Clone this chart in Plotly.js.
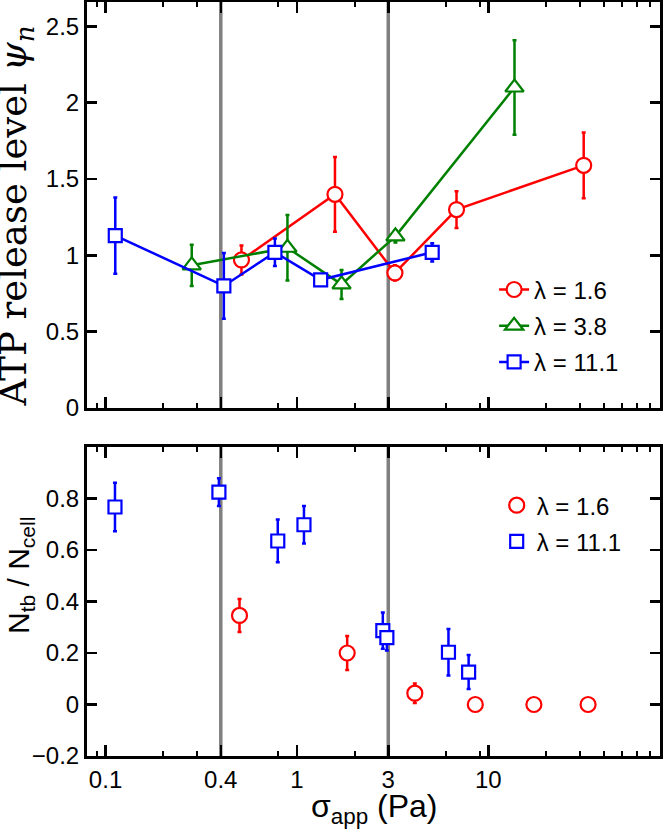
<!DOCTYPE html>
<html>
<head>
<meta charset="utf-8">
<script src="https://cdn.plot.ly/plotly-3.0.1.min.js"></script>
<style>html,body{margin:0;padding:0;background:#fff;}#chart{width:663px;height:837px;}</style>
</head>
<body>
<div id="chart"></div>
<script>
// ---- top panel: ATP release level ----
const top16_x = [0.513, 1.58, 3.25, 6.82, 31.5];
const top16_y = [0.97, 1.40, 0.885, 1.30, 1.59];
const top16_err = [0.095, 0.245, 0.05, 0.12, 0.215];

const top38_x = [0.282, 0.892, 1.71, 3.27, 13.7];
const top38_y = [0.935, 1.05, 0.81, 1.125, 2.10];
const top38_err = [0.135, 0.215, 0.095, 0.04, 0.31];

const top111_x = [0.1124, 0.415, 0.767, 1.33, 5.09];
const top111_y = [1.13, 0.80, 1.02, 0.84, 1.02];
const top111_err = [0.25, 0.215, 0.09, 0.025, 0.06];

// ---- bottom panel: N_tb / N_cell ----
const bot16_x = [0.501, 1.83, 4.13, 8.55, 17.3, 33.2];
const bot16_y = [0.346, 0.20, 0.044, 0, 0, 0];
const bot16_err = [0.064, 0.066, 0.038, 0, 0, 0];

const bot111_x = [0.112, 0.391, 0.794, 1.088, 2.81, 2.95, 6.19, 7.89];
const bot111_y = [0.767, 0.825, 0.635, 0.698, 0.287, 0.26, 0.203, 0.126];
const bot111_err = [0.094, 0.054, 0.083, 0.073, 0.07, 0.05, 0.09, 0.066];

// reference lines and ticks
const vlines = [0.4, 3];
const xTickVals = [0.1, 0.4, 1, 3, 10];
const xTickText = ['0.1', '0.4', '1', '3', '10'];
const xMinorVals = [0.09, 0.2, 0.3, 0.8, 2, 6, 9, 20, 30, 40, 50, 60, 70];
const labels = ['λ = 1.6', 'λ = 3.8', 'λ = 11.1'];

const RED = '#ff0000', GREEN = '#008000', BLUE = '#0000ff';
const SANS = 'Liberation Sans, Arial, Helvetica, sans-serif';

function lineTrace(x, y, e, color, symbol, size, name, group) {
  return {
    type: 'scatter', mode: 'lines+markers', x: x, y: y, name: name,
    xaxis: 'x', yaxis: 'y', legend: 'legend', legendgroup: group,
    line: {color: color, width: 2.5},
    marker: {symbol: symbol, size: size, color: 'white', line: {color: color, width: 2.2}},
    error_y: {type: 'data', array: e, visible: true, color: color, thickness: 2.5, width: 2}
  };
}
function ptTrace(x, y, e, color, symbol, size, name, group) {
  return {
    type: 'scatter', mode: 'markers', x: x, y: y, name: name,
    xaxis: 'x2', yaxis: 'y2', legend: 'legend2', legendgroup: group,
    marker: {symbol: symbol, size: size, color: 'white', line: {color: color, width: 2.2}},
    error_y: {type: 'data', array: e, visible: true, color: color, thickness: 2.5, width: 2}
  };
}

const data = [
  lineTrace(top16_x, top16_y, top16_err, RED, 'circle', 15, labels[0], 'a'),
  lineTrace(top38_x, top38_y, top38_err, GREEN, 'triangle-up', 16, labels[1], 'b'),
  lineTrace(top111_x, top111_y, top111_err, BLUE, 'square', 13, labels[2], 'c'),
  ptTrace(bot16_x, bot16_y, bot16_err, RED, 'circle', 15, labels[0], 'd'),
  ptTrace(bot111_x, bot111_y, bot111_err, BLUE, 'square', 13, labels[2], 'e')
];

const shapes = [];
vlines.forEach(v => {
  ['y', 'y2'].forEach((ya, i) => {
    shapes.push({type: 'line', layer: 'below', xref: i === 0 ? 'x' : 'x2', yref: ya + ' domain',
      x0: v, x1: v, y0: 0, y1: 1, line: {color: '#808080', width: 3.5}});
  });
});

const xCommon = {
  type: 'log', range: [-1.097, 1.897],
  tickmode: 'array', tickvals: xTickVals, ticktext: xTickText,
  ticks: 'inside', ticklen: 11, tickwidth: 2.5, tickcolor: '#000',
  showline: true, linewidth: 3, linecolor: '#000', mirror: 'allticks',
  showgrid: false, zeroline: false,
  minor: {tickmode: 'array', tickvals: xMinorVals, ticks: 'inside', ticklen: 5, tickwidth: 2, tickcolor: '#000', showgrid: false},
  tickfont: {family: SANS, size: 24, color: '#000'}
};
const yCommon = {
  ticks: 'inside', ticklen: 10, tickwidth: 2.5, tickcolor: '#000',
  showline: true, linewidth: 3, linecolor: '#000', mirror: 'allticks',
  showgrid: false, zeroline: false,
  tickfont: {family: SANS, size: 24, color: '#000'}
};

const layout = {
  width: 663, height: 837,
  margin: {l: 87, r: 3, t: 2, b: 81},
  paper_bgcolor: '#fff', plot_bgcolor: '#fff',
  showlegend: true,
  xaxis: Object.assign({}, xCommon, {anchor: 'y', showticklabels: false}),
  yaxis: Object.assign({}, yCommon, {domain: [0.4615, 1], anchor: 'x', range: [0, 2.66],
    tickvals: [0, 0.5, 1, 1.5, 2, 2.5], ticktext: ['0', '0.5', '1', '1.5', '2', '2.5']}),
  xaxis2: Object.assign({}, xCommon, {anchor: 'y2', showticklabels: true}),
  yaxis2: Object.assign({}, yCommon, {domain: [0, 0.4098], anchor: 'x2', range: [-0.2, 1.0],
    tickvals: [-0.2, 0, 0.2, 0.4, 0.6, 0.8], ticktext: ['\u22120.2', '0', '0.2', '0.4', '0.6', '0.8']}),
  legend: {x: 0.7105, y: 0.648, xanchor: 'left', yanchor: 'top', bgcolor: 'rgba(0,0,0,0)',
    font: {family: SANS, size: 24, color: '#000'}, tracegroupgap: 2, itemwidth: 30},
  legend2: {x: 0.715, y: 0.362, xanchor: 'left', yanchor: 'top', bgcolor: 'rgba(0,0,0,0)',
    font: {family: SANS, size: 24, color: '#000'}, tracegroupgap: 2, itemwidth: 30},
  shapes: shapes,
  annotations: [
    {xref: 'paper', yref: 'paper', x: -0.124, y: 0.4615, xanchor: 'center', yanchor: 'bottom',
     textangle: -90, showarrow: false,
     text: 'ATP release level <i>ψ</i><sub><i>n</i></sub>',
     font: {family: 'DejaVu Serif, Liberation Serif, serif', size: 37, color: '#000'}},
    {xref: 'paper', yref: 'paper', x: -0.117, y: 0.240, xanchor: 'center', yanchor: 'middle',
     textangle: -90, showarrow: false,
     text: 'N<sub>tb</sub> / N<sub>cell</sub>',
     font: {family: SANS, size: 30, color: '#000'}},
    {xref: 'paper', yref: 'paper', x: 0.5017, y: -0.070, xanchor: 'center', yanchor: 'middle',
     showarrow: false,
     text: 'σ<sub>app</sub> (Pa)',
     font: {family: SANS, size: 32, color: '#000'}}
  ]
};

Plotly.newPlot('chart', data, layout, {staticPlot: true, displayModeBar: false});
</script>
</body>
</html>
